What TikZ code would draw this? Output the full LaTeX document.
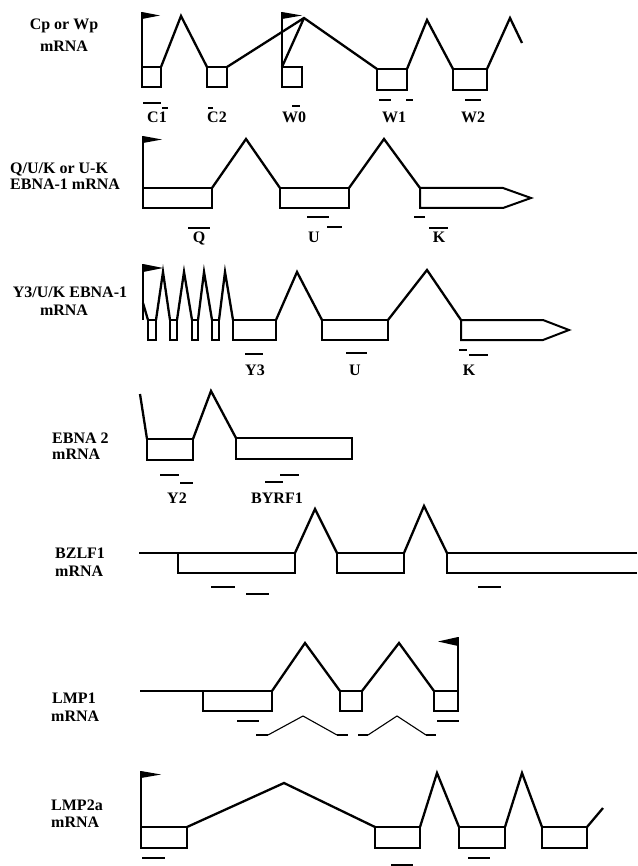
\documentclass[tikz,border=0pt]{standalone}
\usepackage{fontspec}
\setmainfont{Liberation Serif}
\usetikzlibrary{fit}
\begin{document}
\begin{tikzpicture}[x=1pt,y=-1pt,
 exon/.style={draw, line width=2pt, inner sep=0pt, outer sep=0pt},
 exonline/.style={line width=2pt, line join=miter},
 intron/.style={line width=2.3pt, line join=miter},
 pole/.style={line width=1.8pt},
 probe/.style={line width=2pt},
 thinline/.style={line width=1.1pt},
 rowlab/.style={font=\bfseries\fontsize{16}{18}\selectfont, inner sep=0pt, anchor=base west},
 exlab/.style={font=\bfseries\fontsize{16}{18}\selectfont, inner sep=0pt, anchor=base},
]
\useasboundingbox (0,0) rectangle (637,866);

% ---------------- Row 1: Cp or Wp ----------------
\node[rowlab, anchor=base] (r1a) at (64,30) {Cp or Wp};
\node[rowlab, anchor=base] (r1b) at (64,52) {mRNA};
\node[exon, fit={(142,67)(161,87)}] (c1) {};
\node[exon, fit={(207,67)(227,87)}] (c2) {};
\node[exon, fit={(282,67)(302,87)}] (w0) {};
\node[exon, fit={(377,69)(407,90)}] (w1) {};
\node[exon, fit={(453,69)(487,90)}] (w2) {};
\coordinate (a1) at (181,16);
\coordinate (a2) at (304,18);
\coordinate (a3) at (427,20);
\coordinate (a4) at (510,18);
\coordinate (e1) at (522,43);
\draw[intron] (c1.north east) -- (a1) -- (c2.north west);
\draw[intron] (c2.north east) -- (a2) -- (w1.north west);
\draw[intron] (w0.north west) -- (a2);
\draw[intron] (w1.north east) -- (a3) -- (w2.north west);
\draw[intron] (w2.north east) -- (a4) -- (e1);
\coordinate (f1) at (142,12);
\draw[pole] (c1.north west) -- (f1);
\fill (f1) -- (160,15.5) -- (142,19) -- cycle;
\coordinate (f2) at (282,12);
\draw[pole] (w0.north west) -- (f2);
\fill (f2) -- (302,15.5) -- (282,19) -- cycle;
\node[exlab] (lc1) at (157,123) {C1};
\node[exlab] (lc2) at (217,123) {C2};
\node[exlab] (lw0) at (294,123) {W0};
\node[exlab] (lw1) at (394,123) {W1};
\node[exlab] (lw2) at (473,123) {W2};
\draw[probe] (143,103) -- (161,103);
\draw[probe] (162,108) -- (168,108);
\draw[probe] (208,108) -- (213,108);
\draw[probe] (292,106) -- (300,106);
\draw[probe] (379,100) -- (391,100);
\draw[probe] (406,100) -- (413,100);
\draw[probe] (465,100) -- (481,100);

% ---------------- Row 2: Q/U/K ----------------
\node[rowlab] (r2a) at (10,174) {Q/U/K or U-K};
\node[rowlab] (r2b) at (10,190) {EBNA-1 mRNA};
\node[exon, fit={(143,188)(212,208)}] (q) {};
\node[exon, fit={(280,188)(349,208)}] (u) {};
\coordinate (k1) at (420,188);
\coordinate (k2) at (503,188);
\coordinate (kt) at (531,198);
\coordinate (k3) at (503,208);
\coordinate (k4) at (420,208);
\draw[exonline] (k1) -- (k2) -- (kt) -- (k3) -- (k4) -- cycle;
\coordinate (b1) at (246,139);
\coordinate (b2) at (384,139);
\draw[intron] (q.north east) -- (b1) -- (u.north west);
\draw[intron] (u.north east) -- (b2) -- (k1);
\coordinate (f3) at (143,136);
\draw[pole] (q.north west) -- (f3);
\fill (f3) -- (162,139.5) -- (143,143) -- cycle;
\node[exlab] (lq) at (199,243) {Q};
\node[exlab] (lu) at (314,243) {U};
\node[exlab] (lk) at (439,243) {K};
\draw[probe] (188,228) -- (210,228);
\draw[probe] (307,217) -- (329,217);
\draw[probe] (327,227) -- (342,227);
\draw[probe] (414,217) -- (425,217);
\draw[probe] (429,228) -- (448,228);

% ---------------- Row 3: Y3/U/K ----------------
\node[rowlab, anchor=base] (r3a) at (70,297) {Y3/U/K EBNA-1};
\node[rowlab, anchor=base] (r3b) at (64,315) {mRNA};
\node[exon, fit={(148,320)(156,340)}] (s1) {};
\node[exon, fit={(170,320)(177,340)}] (s2) {};
\node[exon, fit={(192,320)(198,340)}] (s3) {};
\node[exon, fit={(212,320)(219,340)}] (s4) {};
\node[exon, fit={(233,320)(276,340)}] (y3) {};
\node[exon, fit={(322,320)(388,340)}] (u2) {};
\coordinate (m1) at (461,320);
\coordinate (m2) at (543,320);
\coordinate (mt) at (569,330);
\coordinate (m3) at (543,340);
\coordinate (m4) at (461,340);
\draw[exonline] (m1) -- (m2) -- (mt) -- (m3) -- (m4) -- cycle;
\coordinate (p1) at (163,272);
\coordinate (p2) at (184,272);
\coordinate (p3) at (204,272);
\coordinate (p4) at (225,272);
\coordinate (p5) at (297,272);
\coordinate (p6) at (427,270);
\draw[intron] (s1.north east) -- (p1) -- (s2.north west);
\draw[intron] (s2.north east) -- (p2) -- (s3.north west);
\draw[intron] (s3.north east) -- (p3) -- (s4.north west);
\draw[intron] (s4.north east) -- (p4) -- (y3.north west);
\draw[intron] (y3.north east) -- (p5) -- (u2.north west);
\draw[intron] (u2.north east) -- (p6) -- (m1);
\coordinate (f4) at (143,264);
\coordinate (f4b) at (143,320);
\draw[pole] (f4b) -- (f4);
\draw[intron] (143,303) -- (s1.north west);
\fill (f4) -- (163,268) -- (143,272) -- cycle;
\node[exlab] (ly3) at (255,375) {Y3};
\node[exlab] (lu2) at (355,375) {U};
\node[exlab] (lk2) at (469,375) {K};
\draw[probe] (245,354) -- (263,354);
\draw[probe] (346,353) -- (367,353);
\draw[probe] (459,350) -- (467,350);
\draw[probe] (469,355) -- (488,355);

% ---------------- Row 4: EBNA 2 ----------------
\node[rowlab] (r4a) at (52,443) {EBNA 2};
\node[rowlab] (r4b) at (52,459) {mRNA};
\node[exon, fit={(147,439)(193,460)}] (y2) {};
\node[exon, fit={(236,438)(352,459)}] (by) {};
\coordinate (s0) at (140,394);
\coordinate (p7) at (211,391);
\draw[intron] (s0) -- (y2.north west);
\draw[intron] (y2.north east) -- (p7) -- (by.north west);
\node[exlab] (ly2) at (177,503) {Y2};
\node[exlab] (lby) at (277,503) {BYRF1};
\draw[probe] (160,475) -- (179,475);
\draw[probe] (180,483) -- (193,483);
\draw[probe] (265,482) -- (283,482);
\draw[probe] (280,475) -- (299,475);

% ---------------- Row 5: BZLF1 ----------------
\node[rowlab] (r5a) at (55,558) {BZLF1};
\node[rowlab] (r5b) at (55,576) {mRNA};
\coordinate (z0) at (139,553);
\node[exon, fit={(178,553)(295,573)}] (z1) {};
\node[exon, fit={(337,553)(404,573)}] (z2) {};
\coordinate (z3) at (447,553);
\coordinate (z3a) at (637,553);
\coordinate (z3b) at (447,573);
\coordinate (z3c) at (637,573);
\draw[exonline] (z3a) -- (z3) -- (z3b) -- (z3c);
\coordinate (p8) at (315,509);
\coordinate (p9) at (424,506);
\draw[intron] (z0) -- (z1.north west);
\draw[intron] (z1.north east) -- (p8) -- (z2.north west);
\draw[intron] (z2.north east) -- (p9) -- (z3);
\draw[probe] (211,587) -- (235,587);
\draw[probe] (246,594) -- (269,594);
\draw[probe] (478,587) -- (501,587);

% ---------------- Row 6: LMP1 ----------------
\node[rowlab] (r6a) at (52,703) {LMP1};
\node[rowlab] (r6b) at (51,721) {mRNA};
\coordinate (l0) at (140,691);
\node[exon, fit={(203,691)(272,711)}] (n1) {};
\node[exon, fit={(340,691)(362,711)}] (n2) {};
\node[exon, fit={(434,691)(458,711)}] (n3) {};
\coordinate (p10) at (305,643);
\coordinate (p11) at (399,643);
\draw[line width=1.3pt] (l0) -- (n1.north west);
\draw[intron] (n1.north east) -- (p10) -- (n2.north west);
\draw[intron] (n2.north east) -- (p11) -- (n3.north west);
\coordinate (f5) at (458,637);
\draw[pole] (n3.north east) -- (f5);
\fill (f5) -- (438,641.5) -- (458,646) -- cycle;
\draw[probe] (237,721) -- (259,721);
\draw[probe] (437,721) -- (459,721);
\draw[probe] (256,735) -- (268,735);
\draw[thinline] (268,735) -- (303,716) -- (337,735);
\draw[probe] (337,735) -- (348,735);
\draw[probe] (358,735) -- (368,735);
\draw[thinline] (368,735) -- (397,716) -- (426,735);
\draw[probe] (426,735) -- (436,735);

% ---------------- Row 7: LMP2a ----------------
\node[rowlab] (r7a) at (51,810) {LMP2a};
\node[rowlab] (r7b) at (51,827) {mRNA};
\node[exon, fit={(141,827)(187,848)}] (o1) {};
\node[exon, fit={(375,827)(420,848)}] (o2) {};
\node[exon, fit={(459,827)(505,848)}] (o3) {};
\node[exon, fit={(542,827)(587,848)}] (o4) {};
\coordinate (p12) at (284,783);
\coordinate (p13) at (437,773);
\coordinate (p14) at (522,773);
\coordinate (e7) at (603,808);
\draw[intron] (o1.north east) -- (p12) -- (o2.north west);
\draw[intron] (o2.north east) -- (p13) -- (o3.north west);
\draw[intron] (o3.north east) -- (p14) -- (o4.north west);
\draw[intron] (o4.north east) -- (e7);
\coordinate (f6) at (141,771);
\draw[pole] (o1.north west) -- (f6);
\fill (f6) -- (161,774.5) -- (141,778) -- cycle;
\draw[probe] (142,858) -- (165,858);
\draw[probe] (391,865) -- (413,865);
\draw[probe] (468,858) -- (490,858);
\end{tikzpicture}
\end{document}
